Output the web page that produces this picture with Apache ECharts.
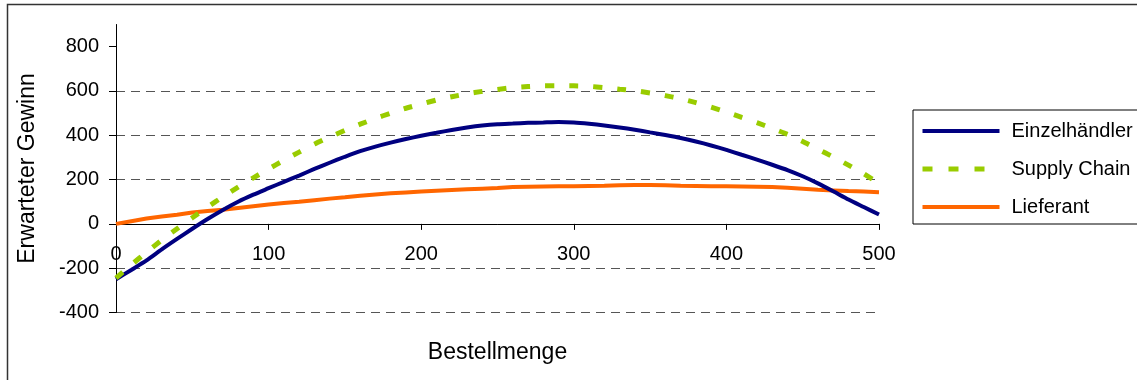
<!DOCTYPE html>
<html>
<head>
<meta charset="utf-8">
<script src="https://cdn.jsdelivr.net/npm/echarts@6/dist/echarts.min.js"></script>
<style>
html,body{margin:0;padding:0;background:#fff;}
#chart{width:1137px;height:380px;}
</style>
</head>
<body>
<div id="chart"></div>
<script>
const bestellmenge = [0,10,20,30,40,50,60,70,80,90,100,110,120,130,140,150,160,170,180,190,200,210,220,230,240,250,260,270,280,290,300,310,320,330,340,350,360,370,380,390,400,410,420,430,440,450,460,470,480,490,500];
const einzelhaendler = [-250,-208,-165,-115,-68,-22,22,63,100,132,161,190,218,248,276,303,328,349,367,383,398,411,424,435,444,450,453,456,458,460,458,452,444,435,425,413,401,388,372,354,334,312,290,267,243,215,183,147,110,76,42];
const supplyChain = [-245,-185,-128,-73,-22,28,76,122,166,208,248,287,324,360,392,422,450,476,500,522,541,559,574,587,598,607,615,620,623,623,623,621,615,608,601,591,579,565,547,527,505,481,457,431,404,372,337,302,265,226,183];
const lieferant = [0,12,24,33,41,51,58,64,72,80,88,94,100,107,114,120,127,133,138,142,146,150,153,156,159,162,166,168,169,170,170,171,172,174,175,175,174,172,171,170,170,169,168,166,163,159,154,151,148,146,143];
const yTicks = [-400,-200,0,200,400,600,800];
const seriesNames = ['Einzelhändler','Supply Chain','Lieferant'];
const colors = ['#000080','#99CC00','#FF6600'];

function pairs(vals){ return bestellmenge.map((x,i)=>[x, vals[i]]); }

const yMin = -400, yMax = 900;
const gridTop = 24.5, gridBottom = 67.5, H = 380;
const plotH = H - gridTop - gridBottom;
// x axis drawn at the value 0 line: shift it up from the grid bottom
const zeroOffset = -(0 - yMin) / (yMax - yMin) * plotH;

const chart = echarts.init(document.getElementById('chart'), null, {renderer:'canvas'});
const font = 'Liberation Sans, Arial, sans-serif';
chart.setOption({
  animation:false,
  backgroundColor:'#fff',
  textStyle:{fontFamily:font},
  graphic:[{
    type:'rect', shape:{x:7.5,y:4.5,width:1300,height:500},
    style:{fill:'none',stroke:'#333',lineWidth:1.5}, silent:true, z:-1
  }],
  grid:{left:116,right:258,top:gridTop,bottom:gridBottom,containLabel:false,outerBoundsMode:'none'},
  legend:{
    orient:'vertical', left:913, top:110,
    data:[
      {name:seriesNames[0], itemStyle:{opacity:0}, lineStyle:{width:4, color:colors[0]}},
      {name:seriesNames[1], itemStyle:{opacity:0}, lineStyle:{width:5, color:colors[1], type:[10,16]}},
      {name:seriesNames[2], itemStyle:{opacity:0}, lineStyle:{width:4, color:colors[2]}}
    ],
    itemWidth:77, itemHeight:14, itemGap:18,
    padding:[11,40,7,7],
    borderColor:'#000', borderWidth:1, borderRadius:0,
    textStyle:{fontSize:20, color:'#000', fontFamily:font, padding:[0,0,0,7]},
    selectedMode:false
  },
  xAxis:{
    type:'value', min:0, max:500, interval:100,
    position:'bottom', offset:zeroOffset,
    name:'Bestellmenge', nameLocation:'middle', nameGap:117,
    nameTextStyle:{fontSize:23, color:'#000', fontFamily:font},
    axisLine:{onZero:false, lineStyle:{color:'#000', width:1}},
    axisTick:{show:true, inside:false, length:6, lineStyle:{color:'#000'}},
    axisLabel:{fontSize:20, color:'#000', margin:21, fontFamily:font},
    splitLine:{show:false}
  },
  yAxis:{
    type:'value', min:yMin, max:yMax, interval:200,
    name:'Erwarteter Gewinn', nameLocation:'middle', nameGap:77, nameRotate:90,
    nameTextStyle:{fontSize:23, color:'#000', fontFamily:font},
    axisLine:{show:true, lineStyle:{color:'#000', width:1}},
    axisTick:{show:true, length:7, customValues:yTicks, lineStyle:{color:'#000'}},
    axisLabel:{fontSize:20, color:'#000', margin:17, customValues:yTicks, fontFamily:font},
    splitLine:{show:true, showMaxLine:false, lineStyle:{color:'#555', type:[9,6], width:1}}
  },
  series:[
    {name:seriesNames[0], type:'line', data:pairs(einzelhaendler), symbol:'none', z:4, smooth:0.2,
     lineStyle:{color:colors[0], width:4}, itemStyle:{color:colors[0]}},
    {name:seriesNames[1], type:'line', data:pairs(supplyChain), symbol:'none', z:5, smooth:0.2,
     lineStyle:{color:colors[1], width:5, type:[9,15]}, itemStyle:{color:colors[1]}},
    {name:seriesNames[2], type:'line', data:pairs(lieferant), symbol:'none', z:3,
     lineStyle:{color:colors[2], width:4}, itemStyle:{color:colors[2]}}
  ]
});
</script>
</body>
</html>
